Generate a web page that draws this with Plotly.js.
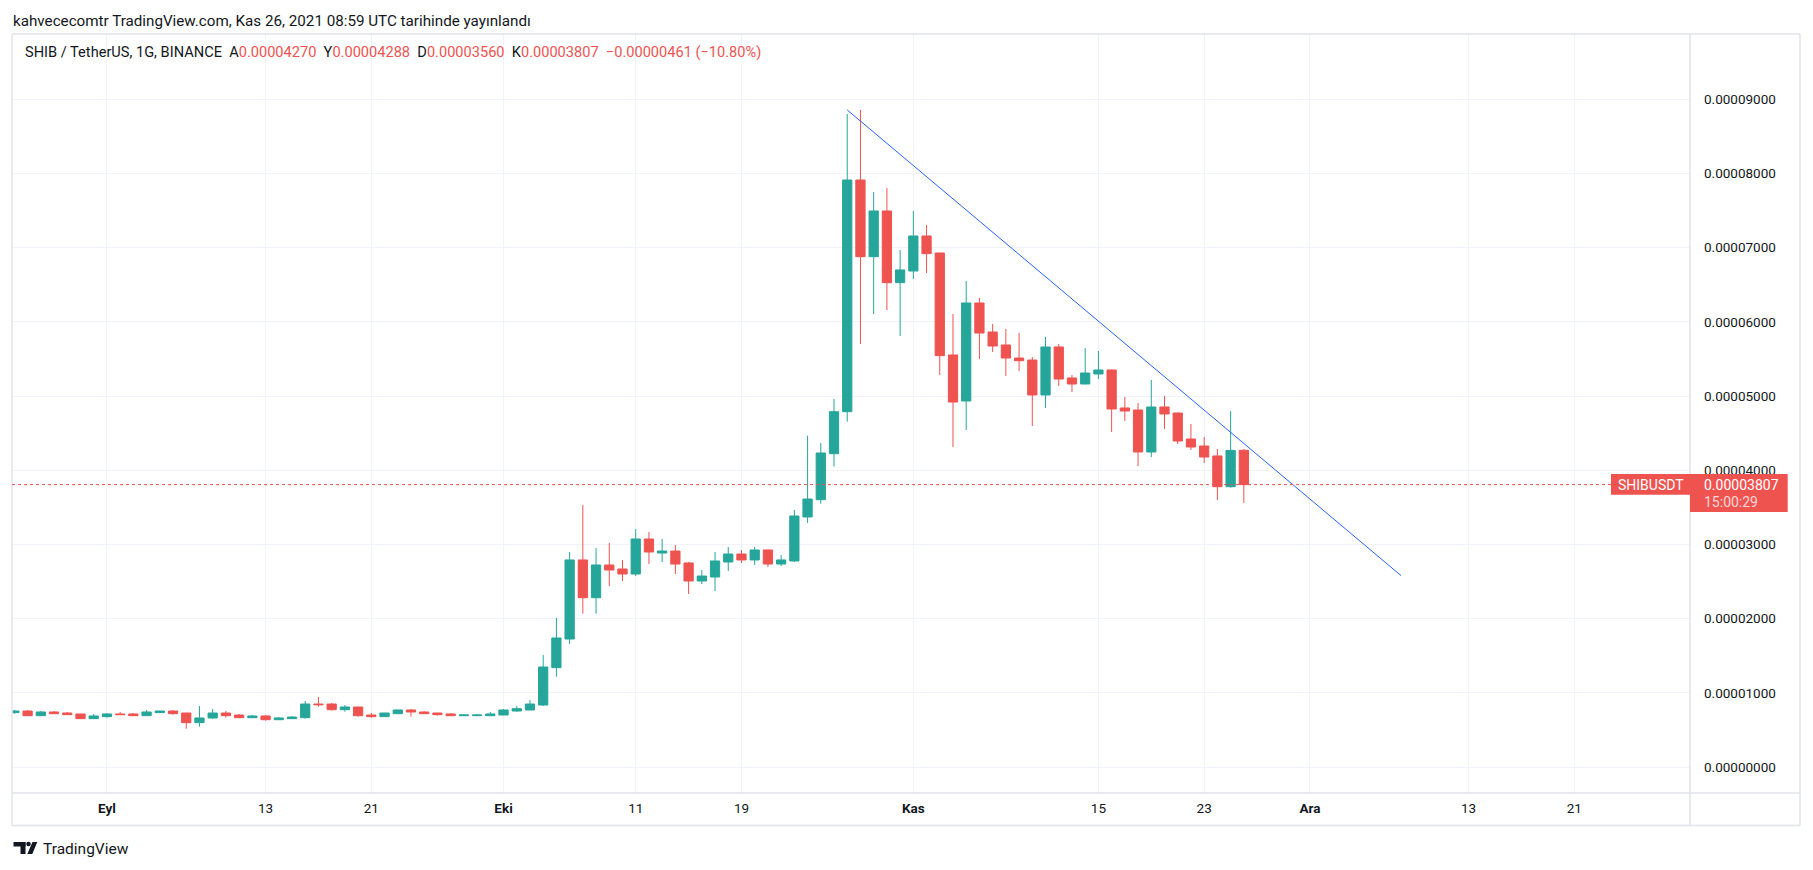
<!DOCTYPE html>
<html><head><meta charset="utf-8">
<script src="https://cdn.plot.ly/plotly-3.0.1.min.js"></script>
<style>html,body{margin:0;padding:0;background:#fff;overflow:hidden}#chart{width:1813px;height:870px}</style>
</head><body><div id="chart"></div>
<script>
// Daily SHIB/USDT candles, values in units of 1e-5 USDT, consecutive days from firstDay
const firstDay = '2021-08-25';
const openE5 = [0.734,0.756,0.693,0.743,0.729,0.716,0.653,0.680,0.716,0.716,0.693,0.734,0.756,0.729,0.599,0.662,0.729,0.702,0.666,0.689,0.639,0.653,0.666,0.850,0.850,0.774,0.810,0.702,0.680,0.720,0.770,0.743,0.729,0.716,0.693,0.693,0.693,
  0.702,0.756,0.770,0.837,1.340,1.726,2.792,2.283,2.724,2.670,2.602,3.074,2.885,2.912,2.751,2.508,2.562,2.764,2.872,2.792,2.926,2.737,2.778,3.371,3.604,4.224,4.790,7.912,6.879,7.495,6.529,
  6.686,7.158,6.929,5.554,4.934,6.255,5.864,5.689,5.513,5.486,5.015,5.662,5.244,5.163,5.298,5.352,4.840,4.813,4.247,4.853,4.772,4.422,4.327,4.193,3.779,4.270];
const highE5 = [0.770,0.770,0.756,0.756,0.743,0.718,0.716,0.729,0.743,0.729,0.770,0.760,0.770,0.731,0.823,0.783,0.756,0.716,0.702,0.702,0.675,0.689,0.891,0.945,0.864,0.837,0.812,0.729,0.731,0.774,0.783,0.756,0.731,0.729,0.716,0.716,0.743,
  0.783,0.823,0.904,1.511,2.009,2.899,3.532,2.953,3.020,2.792,3.209,3.168,3.074,2.993,2.764,2.656,2.899,2.966,2.926,2.966,2.930,2.858,3.465,4.467,4.368,4.961,8.802,8.856,7.751,7.805,6.969,
  7.495,7.306,6.929,6.106,6.551,6.322,5.972,5.904,5.850,5.527,5.797,5.702,5.284,5.648,5.608,5.360,4.988,4.907,5.217,5.001,4.780,4.624,4.449,4.287,4.799,4.288];
const lowE5 = [0.720,0.690,0.690,0.716,0.702,0.650,0.648,0.666,0.705,0.690,0.690,0.732,0.707,0.518,0.545,0.653,0.666,0.664,0.664,0.626,0.637,0.651,0.653,0.814,0.761,0.747,0.680,0.666,0.678,0.718,0.680,0.718,0.693,0.690,0.690,0.690,0.690,
  0.700,0.747,0.765,0.823,1.219,1.659,2.068,2.068,2.441,2.508,2.575,2.737,2.764,2.602,2.333,2.468,2.373,2.643,2.751,2.724,2.697,2.710,2.764,3.290,3.550,4.050,4.655,5.702,6.106,6.160,5.810,
  6.578,6.659,5.284,4.314,4.543,5.499,5.594,5.271,5.338,4.597,4.840,5.136,5.055,5.160,5.230,4.516,4.664,4.058,4.179,4.557,4.354,4.274,4.098,3.600,3.766,3.560];
const closeE5 = [0.756,0.693,0.743,0.720,0.707,0.653,0.689,0.716,0.707,0.693,0.743,0.756,0.720,0.599,0.662,0.729,0.693,0.666,0.689,0.639,0.662,0.675,0.850,0.841,0.774,0.810,0.693,0.680,0.729,0.770,0.743,0.720,0.707,0.693,0.702,0.702,0.716,
  0.770,0.787,0.850,1.349,1.740,2.792,2.283,2.724,2.656,2.602,3.074,2.899,2.912,2.737,2.508,2.575,2.778,2.872,2.792,2.926,2.737,2.792,3.384,3.613,4.233,4.790,7.912,6.879,7.495,6.529,6.700,
  7.158,6.920,5.545,4.920,6.255,5.850,5.675,5.513,5.477,5.015,5.662,5.230,5.163,5.311,5.352,4.826,4.799,4.247,4.853,4.759,4.395,4.314,4.179,3.779,4.268,3.807];

const priceTicksE5 = [0,1,2,3,4,5,6,7,8,9];
const timeTickDates = ['2021-09-01','2021-09-13','2021-09-21','2021-10-01','2021-10-11','2021-10-19','2021-11-01','2021-11-15','2021-11-23','2021-12-01','2021-12-13','2021-12-21'];
const timeTickLabels = ['<b>Eyl</b>','13','21','<b>Eki</b>','11','19','<b>Kas</b>','15','23','<b>Ara</b>','13','21'];
const trendDates = ['2021-10-27 00:00','2021-12-07 21:30'];
const trendE5 = [8.856, 2.58];
const symbolName = 'SHIBUSDT';
const countdown = '15:00:29';

const E5 = 1e-5;
const sc = a => a.map(v => v * E5);
const dayMs = 86400000;
const t0 = Date.parse(firstDay + 'T00:00:00Z');
const dates = openE5.map((_, i) => new Date(t0 + i * dayMs).toISOString().slice(0, 10));

const n = closeE5.length;
const lastO = openE5[n-1]*E5, lastH = highE5[n-1]*E5, lastL = lowE5[n-1]*E5, lastC = closeE5[n-1]*E5;
const prevC = closeE5[n-2]*E5;
const chg = lastC - prevC;
const pct = chg / prevC * 100;
const fmt = v => (v < 0 ? '\u2212' : '') + Math.abs(v).toFixed(8);
const RED = '#ef5350', GREEN = '#26a69a', TXT = '#131722', FRAME = '#e0e3eb';
const SP = '\u00a0\u00a0';

// pixel helpers for layout decorations
const L = 12, R = 1690, T = 34, B = 793;
const px = x => (x - L) / (R - L);
const py = y => (B - y) / (B - T);

const frameLine = (x0, y0, x1, y1) => ({type:'line', xref:'paper', yref:'paper', x0:px(x0), y0:py(y0), x1:px(x1), y1:py(y1), line:{color:FRAME, width:1.5}, layer:'above'});

const candles = {
  type:'candlestick', x:dates, open:sc(openE5), high:sc(highE5), low:sc(lowE5), close:sc(closeE5),
  increasing:{line:{color:GREEN, width:1}, fillcolor:GREEN},
  decreasing:{line:{color:RED, width:1}, fillcolor:RED},
  whiskerwidth:0, hoverinfo:'none', showlegend:false
};
const trend = {type:'scatter', mode:'lines', x:trendDates, y:sc(trendE5), line:{color:'#2962ff', width:1}, hoverinfo:'none', showlegend:false};

const legendText = '<span style="color:'+TXT+'">SHIB / TetherUS, 1G, BINANCE'+SP+'A</span>' + fmt(lastO) +
  '<span style="color:'+TXT+'">'+SP+'Y</span>' + fmt(lastH) +
  '<span style="color:'+TXT+'">'+SP+'D</span>' + fmt(lastL) +
  '<span style="color:'+TXT+'">'+SP+'K</span>' + fmt(lastC) +
  SP + fmt(chg) + ' (' + (pct < 0 ? '\u2212' : '') + Math.abs(pct).toFixed(2) + '%)';

const layout = {
  width:1813, height:870,
  margin:{l:L, r:1813-R, t:T, b:870-B, pad:0},
  paper_bgcolor:'#ffffff', plot_bgcolor:'#ffffff',
  showlegend:false, dragmode:false,
  font:{family:'Roboto, "Noto Sans", sans-serif', color:TXT, size:13.5},
  boxgap:0.3, boxgroupgap:0,
  xaxis:{type:'date', range:['2021-08-24 19:40','2021-12-29 18:00'], rangeslider:{visible:false},
    tickmode:'array', tickvals:timeTickDates, ticktext:timeTickLabels,
    showgrid:true, gridcolor:'#f0f3fa', gridwidth:1, zeroline:false, showline:false, ticks:'',
    tickfont:{size:13.5, color:TXT}, ticklabelstandoff:5, fixedrange:true},
  yaxis:{side:'right', range:[-0.349*E5, 9.880*E5], tickmode:'array', tickvals:sc(priceTicksE5), tickformat:'.8f',
    showgrid:true, gridcolor:'#f0f3fa', gridwidth:1, zeroline:false, showline:false, ticks:'',
    tickfont:{size:13.5, color:TXT}, ticklabelstandoff:13, fixedrange:true},
  shapes:[
    frameLine(L, T, 1800, T),
    frameLine(L, T, L, 825.5),
    frameLine(R, T, R, 825.5),
    frameLine(1800, T, 1800, 825.5),
    frameLine(L, B, 1800, B),
    frameLine(L, 825.5, 1800, 825.5),
    {type:'line', xref:'paper', x0:0, x1:px(1611), yref:'y', y0:lastC, y1:lastC, line:{color:RED, width:1, dash:'dot'}},
    {type:'rect', xref:'paper', x0:px(1611), x1:px(1690), yref:'y', ysizemode:'pixel', yanchor:lastC, y0:-10.1, y1:10.6, fillcolor:RED, line:{width:0}},
    {type:'rect', xref:'paper', x0:px(1690), x1:px(1787.7), yref:'y', ysizemode:'pixel', yanchor:lastC, y0:-27.4, y1:10.6, fillcolor:RED, line:{width:0}},
    // TradingView logo
    {type:'rect', xref:'paper', yref:'paper', x0:px(13.5), x1:px(25.5), y0:py(846.5), y1:py(842), fillcolor:TXT, line:{width:0}},
    {type:'rect', xref:'paper', yref:'paper', x0:px(20.5), x1:px(25.5), y0:py(854), y1:py(842), fillcolor:TXT, line:{width:0}},
    {type:'circle', xref:'paper', yref:'paper', x0:px(26.2), x1:px(30.8), y0:py(846.3), y1:py(841.7), fillcolor:TXT, line:{width:0}},
    {type:'path', xref:'paper', yref:'paper', path:'M '+px(32.5)+','+py(842)+' L '+px(37.3)+','+py(842)+' L '+px(32.3)+','+py(854)+' L '+px(27.3)+','+py(854)+' Z', fillcolor:TXT, line:{width:0}}
  ],
  annotations:[
    {xref:'paper', yref:'paper', x:px(11), y:py(21), xanchor:'left', yanchor:'middle', showarrow:false,
      text:'kahvececomtr TradingView.com, Kas 26, 2021 08:59 UTC tarihinde yayınlandı', font:{size:15.2, color:TXT}},
    {xref:'paper', yref:'paper', x:px(23), y:py(52), xanchor:'left', yanchor:'middle', showarrow:false,
      text:legendText, font:{size:14.6, color:RED}},
    {xref:'paper', yref:'y', x:px(1616), y:lastC, xanchor:'left', yanchor:'middle', showarrow:false,
      text:symbolName, font:{size:14, color:'#ffffff'}},
    {xref:'paper', yref:'y', x:px(1702), y:lastC, xanchor:'left', yanchor:'middle', showarrow:false,
      text:fmt(lastC), font:{size:14, color:'#ffffff'}},
    {xref:'paper', yref:'y', x:px(1702), y:lastC, yshift:-17.5, xanchor:'left', yanchor:'middle', showarrow:false,
      text:countdown, font:{size:14, color:'rgba(255,255,255,0.78)'}},
    {xref:'paper', yref:'paper', x:px(41), y:py(849), xanchor:'left', yanchor:'middle', showarrow:false,
      text:'TradingView', font:{size:15.5, color:TXT}}
  ]
};

Plotly.newPlot('chart', [candles, trend], layout, {displayModeBar:false, staticPlot:true});
</script></body></html>
